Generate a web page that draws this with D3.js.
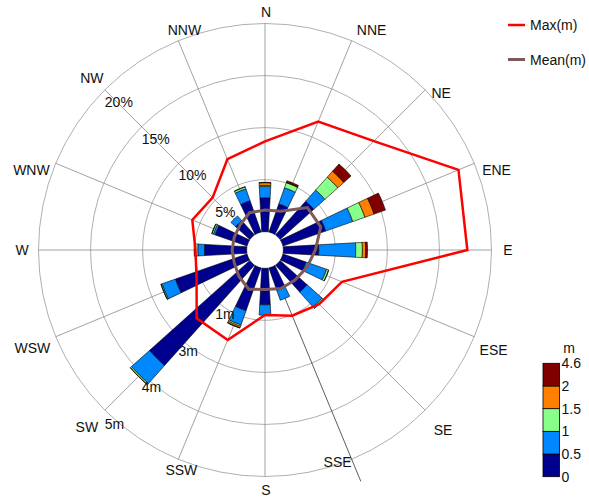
<!DOCTYPE html>
<html><head><meta charset="utf-8">
<script src="https://cdn.jsdelivr.net/npm/d3@7"></script>
<style>html,body{margin:0;padding:0;background:#fff;}svg{display:block;font-family:"Liberation Sans",Arial,sans-serif;}</style>
</head><body>
<svg id="c" width="589" height="498"></svg>
<script>
// ---- data ----
const directions = ["N","NNE","NE","ENE","E","ESE","SE","SSE","S","SSW","SW","WSW","W","WNW","NW","NNW"];
const speedClasses = ["0-0.5","0.5-1","1-1.5","1.5-2","2-4.6"];
const classColors = ["#00008F","#0088FF","#88FF88","#FF8000","#800000"];
const colorbarTicks = ["0","0.5","1","1.5","2","4.6"];
// frequency (%) per direction for each speed class
const freq0 = [3.26,2.86,4.35,4.35,3.41,2.35,3.48,2.29,3.51,4.35,12.95,7.29,4.06,3.24,1.84,3.19];
const freq1 = [1.09,1.64,1.43,2.75,3.55,2.09,1.93,0.99,1.00,1.45,2.32,1.36,0.64,0.19,0.61,1.21];
const freq2 = [0.10,0.52,1.66,1.24,0.64,0.20,0.15,0.00,0.00,0.14,0.14,0.10,0.32,0.14,0.00,0.19];
const freq3 = [0.26,0.05,0.77,0.93,0.32,0.02,0.02,0.00,0.00,0.15,0.03,0.02,0.03,0.02,0.00,0.03];
const freq4 = [0.03,0.15,0.93,1.16,0.17,0.00,0.00,0.00,0.00,0.03,0.00,0.00,0.00,0.00,0.00,0.00];
// max and mean (m) per direction
const maxM  = [2.17,2.90,3.26,4.59,4.42,1.56,1.40,1.27,1.12,1.90,1.88,1.34,1.23,1.45,1.34,1.92];
const meanM = [0.52,0.57,1.00,1.01,0.77,0.65,0.58,0.56,0.51,0.58,0.45,0.36,0.35,0.36,0.41,0.53];
const pctTicks = [5,10,15,20];
const mTickLabels = ["1m","3m","4m","5m"];
const darkSpoke = "SSE"; // spoke drawn darker and longer in the reference

// ---- layout ----
const svg = d3.select("#c");
const cx = 265, cy = 250;
const r0 = 18.3, rMax = 226.5;
const rScale = d3.scaleLinear().domain([0,20]).range([r0,rMax]);
const mScale = d3.scaleLinear().domain([0,5]).range([r0,rMax]);
const angScale = d3.scalePoint().domain(directions.concat(["_"])).range([0,360]);
const rad = a => a*Math.PI/180;
const px = (a,r) => cx + r*Math.sin(rad(a));
const py = (a,r) => cy - r*Math.cos(rad(a));
// small placement nudges for the compass labels (layout only)
const labelNudge = [[1,4],[14,4],[5,14],[8,13],[1,0],[5,7],[7,9],[-20,-12],[1,-2],[9,-4],[-7,6],[-9,5],[-1,0],[-10,13],[-2,-1],[12,4]];

const g = svg.append("g");
// grid circles
g.selectAll("circle.grid").data(pctTicks).join("circle")
  .attr("cx",cx).attr("cy",cy).attr("r",d=>rScale(d))
  .attr("fill","none").attr("stroke","#9a9a9a").attr("stroke-width",0.8);
// radial lines
const spokeEnd = d => d===darkSpoke ? rScale(22.3) : rMax;
g.selectAll("line.spoke").data(directions).join("line")
  .attr("x1",d=>px(angScale(d),r0)).attr("y1",d=>py(angScale(d),r0))
  .attr("x2",d=>px(angScale(d),spokeEnd(d))).attr("y2",d=>py(angScale(d),spokeEnd(d)))
  .attr("stroke",d=>d===darkSpoke?"#333":"#8a8a8a").attr("stroke-width",0.8);

// bars
const table = directions.map((d,i)=>({dir:d, c0:freq0[i],c1:freq1[i],c2:freq2[i],c3:freq3[i],c4:freq4[i]}));
const stack = d3.stack().keys(["c0","c1","c2","c3","c4"]);
const series = stack(table);
const wa = 4.5, wb = 0.11;
const hw = r => (wa + wb*r)/2;
function segPoints(a, ra, rb){
  const pts=[];
  const da = Math.asin(Math.min(1,hw(ra)/ra))*180/Math.PI;
  const db = Math.asin(Math.min(1,hw(rb)/rb))*180/Math.PI;
  const n=6;
  for(let k=0;k<=n;k++){const t=-db+2*db*k/n; pts.push([px(a+t,rb),py(a+t,rb)]);}
  for(let k=0;k<=n;k++){const t=da-2*da*k/n; pts.push([px(a+t,ra),py(a+t,ra)]);}
  return pts;
}
const line = d3.line();
series.forEach((s,ci)=>{
  g.append("g").selectAll("path").data(s.filter(d=>d[1]-d[0]>0.001)).join("path")
    .attr("d",d=>line(segPoints(angScale(d.data.dir), rScale(d[0]), rScale(d[1])))+"Z")
    .attr("fill",classColors[ci]).attr("stroke","#000").attr("stroke-width",0.6);
});

// percent labels (along NW)
const labAng = angScale("NW");
g.selectAll("text.pct").data(pctTicks).join("text")
  .attr("x",d=>px(labAng,rScale(d))).attr("y",d=>py(labAng,rScale(d))+17)
  .attr("font-size",14).attr("fill","#111").text(d=>d+"%");
// meter labels (along SW)
const mAng = angScale("SW");
g.selectAll("text.mlab").data(mTickLabels).join("text")
  .attr("x",(d,i)=>px(mAng,rScale(pctTicks[i]))).attr("y",(d,i)=>py(mAng,rScale(pctTicks[i]))+19)
  .attr("font-size",14).attr("fill","#111").text(d=>d);

// max / mean lines
const radial = d3.lineRadial().curve(d3.curveLinearClosed);
g.append("path").attr("transform",`translate(${cx},${cy})`)
  .attr("d",radial.angle((d,i)=>rad(angScale(directions[i]))).radius(d=>mScale(d))(meanM))
  .attr("fill","none").attr("stroke","#7d5a58").attr("stroke-width",3);
g.append("path").attr("transform",`translate(${cx},${cy})`)
  .attr("d",radial.angle((d,i)=>rad(angScale(directions[i]))).radius(d=>mScale(d))(maxM))
  .attr("fill","none").attr("stroke","#ff0000").attr("stroke-width",2.5);

// compass labels
g.selectAll("text.dir").data(directions).join("text")
  .attr("x",(d,i)=>px(angScale(d),242)+labelNudge[i][0]).attr("y",(d,i)=>py(angScale(d),242)+5+labelNudge[i][1])
  .attr("text-anchor","middle").attr("font-size",14).attr("fill","#111").text(d=>d);

// legend
const legend = [{name:"Max(m)",color:"#ff0000",w:2.5},{name:"Mean(m)",color:"#7d5a58",w:3}];
const lg = svg.append("g");
lg.selectAll("line").data(legend).join("line")
  .attr("x1",508).attr("x2",525).attr("y1",(d,i)=>25+i*34.5).attr("y2",(d,i)=>25+i*34.5)
  .attr("stroke",d=>d.color).attr("stroke-width",d=>d.w);
lg.selectAll("text").data(legend).join("text")
  .attr("x",530).attr("y",(d,i)=>30+i*34.5).attr("font-size",14).attr("fill","#111").text(d=>d.name);

// colorbar
const cbX = 543, cbW = 16.5;
const cbScale = d3.scaleLinear().domain([0,5]).range([476.7,363.3]);
const cb = svg.append("g");
cb.selectAll("rect").data(classColors).join("rect")
  .attr("x",cbX).attr("width",cbW).attr("y",(d,i)=>cbScale(i+1)).attr("height",(d,i)=>cbScale(i)-cbScale(i+1))
  .attr("fill",d=>d).attr("stroke","#000").attr("stroke-width",0.8);
cb.selectAll("text").data(colorbarTicks).join("text")
  .attr("x",cbX+cbW+2).attr("y",(d,i)=>cbScale(i)+5).attr("font-size",14).attr("fill","#111").text(d=>d);
cb.append("text").attr("x",569).attr("y",353).attr("text-anchor","middle").attr("font-size",14).attr("fill","#111").text("m");
</script>
</body></html>
